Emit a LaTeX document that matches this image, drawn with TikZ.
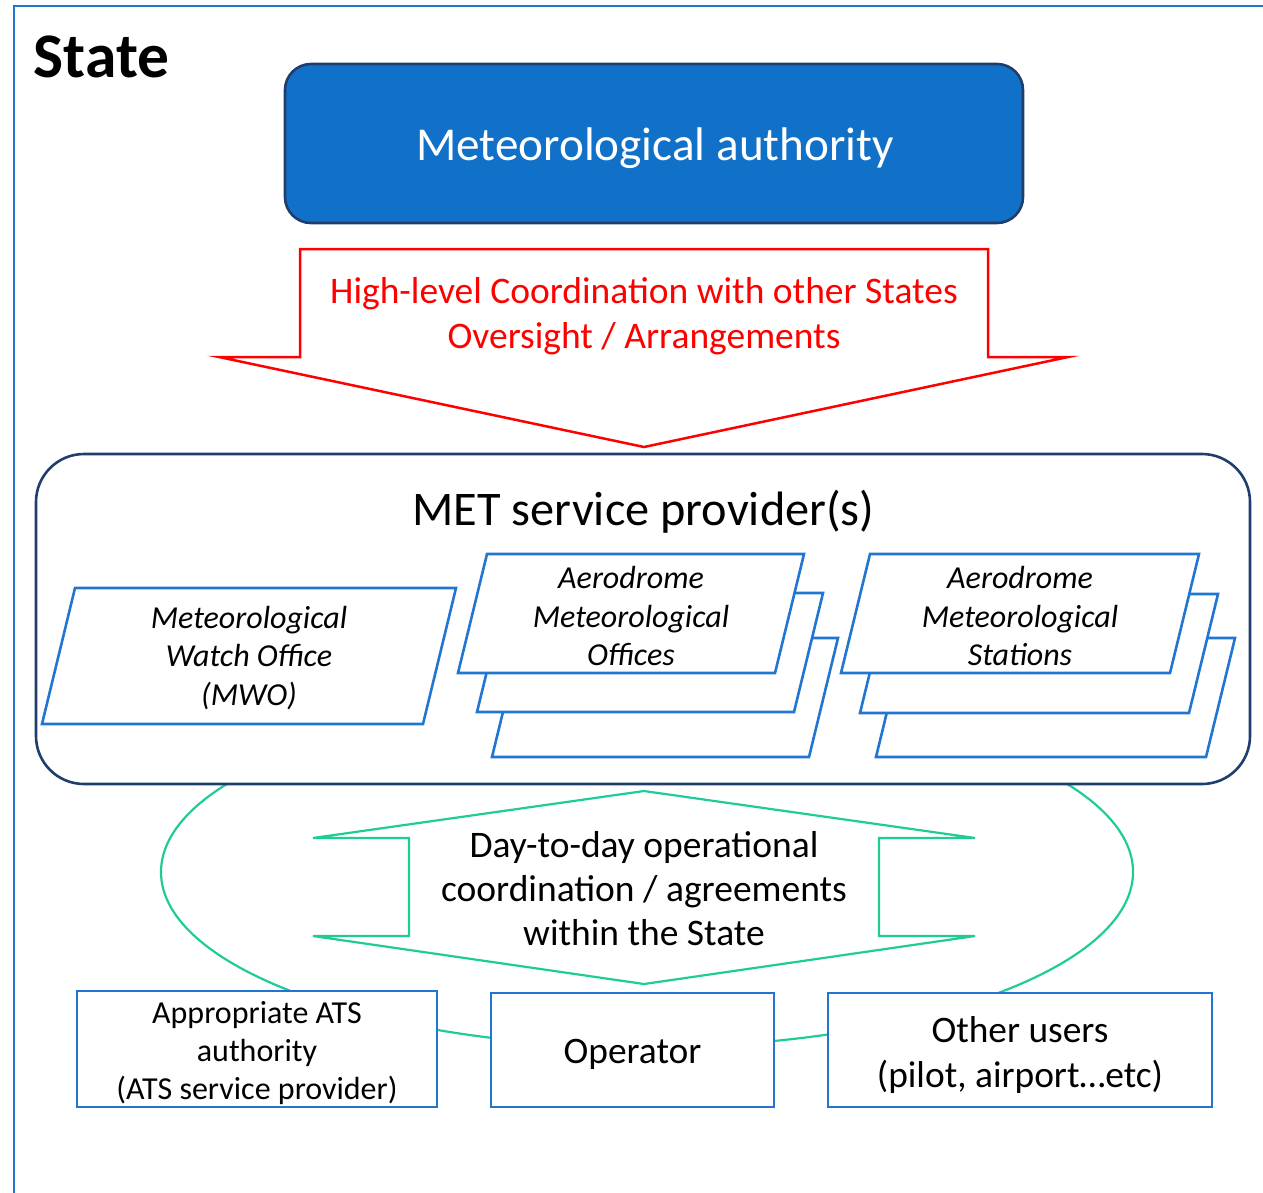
\documentclass[tikz,border=0pt]{standalone}
\usepackage{fontspec}
\setmainfont{Carlito}
\definecolor{frameblue}{RGB}{33,118,210}
\definecolor{authfill}{RGB}{17,112,200}
\definecolor{navy}{RGB}{31,62,110}
\definecolor{mint}{RGB}{32,204,150}
\tikzset{
  bluebox/.style={draw=frameblue, line width=2.6pt, fill=white, line join=miter},
  redline/.style={draw=red, line width=2.5pt, fill=white, line join=miter},
  mintline/.style={draw=mint, line width=2.2pt, line join=miter},
  paratext/.style={font=\fontsize{32}{38.5}\selectfont\itshape, align=center},
  plaintext/.style={font=\fontsize{32}{38}\selectfont, align=center}
}
\begin{document}
\begin{tikzpicture}[x=1pt,y=-1pt]
\useasboundingbox (0,0) rectangle (1263,1192);
% outer frame (only top and left visible)
\draw[frameblue, line width=2.6pt] (14,1200) -- (14,6) -- (1270,6);
\node[anchor=base, font=\fontsize{63.5}{72}\selectfont\bfseries] (state) at (101.5,77) {State};

% green ellipse behind everything
\draw[mintline, fill=none] (647,872) ellipse [x radius=486, y radius=175];

% MET service provider container
\draw[draw=navy, line width=2.6pt, fill=white, rounded corners=48pt] (36,454) rectangle (1250,784);
\node[font=\fontsize{48.3}{56}\selectfont] (met) at (643.5,512) {MET service provider(s)};

% MWO
\draw[bluebox] (75,588) -- (456,588) -- (423,724) -- (42,724) -- cycle;
\node[paratext] (mwo) at (249,658) {Meteorological\\Watch Office\\(MWO)};

% Aerodrome Meteorological Offices stack
\draw[bluebox] (521,638) -- (838,638) -- (809,757) -- (492,757) -- cycle;
\draw[bluebox] (506,593) -- (823,593) -- (794,712) -- (477,712) -- cycle;
\draw[bluebox] (487,554) -- (804,554) -- (775,673) -- (458,673) -- cycle;
\node[paratext] (amo) at (631,616) {Aerodrome\\Meteorological\\Offices};

% Aerodrome Meteorological Stations stack
\draw[bluebox] (905,638) -- (1235,638) -- (1206,757) -- (876,757) -- cycle;
\draw[bluebox] (889,594) -- (1218,594) -- (1189,713) -- (860,713) -- cycle;
\draw[bluebox] (870,554) -- (1199,554) -- (1170,673) -- (841,673) -- cycle;
\node[paratext] (ams) at (1020,616) {Aerodrome\\Meteorological\\Stations};

% Meteorological authority
\node[draw=navy, line width=2.6pt, fill=authfill, rounded corners=26pt,
      minimum width=738pt, minimum height=159pt] (auth) at (654,143.5) {};
\node[text=white, font=\fontsize{47.2}{56}\selectfont] (authtext) at (655,148) {Meteorological authority};

% red arrow
\draw[redline] (300,249) -- (988,249) -- (988,357) -- (1068,357) -- (644,447) -- (219,357) -- (300,357) -- cycle;
\node[text=red, font=\fontsize{37.5}{45}\selectfont, align=center] (hl) at (644,316)
  {High-level Coordination with other States\\Oversight / Arrangements};

% green double arrow
\draw[mintline, fill=white] (644,791) -- (975,838) -- (879,838) -- (879,936) -- (975,936) -- (644,984)
  -- (313,936) -- (409,936) -- (409,838) -- (313,838) -- cycle;
\node[font=\fontsize{37.5}{44}\selectfont, align=center] (dtd) at (644,889)
  {Day-to-day operational\\coordination / agreements\\within the State};

% bottom boxes
\node[bluebox, minimum width=360pt, minimum height=116pt] (ats) at (257,1049) {};
\node[plaintext] (atstext) at (257,1053) {Appropriate ATS\\authority\\(ATS service provider)};
\node[bluebox, minimum width=283pt, minimum height=114pt] (op) at (632.5,1050) {};
\node[font=\fontsize{37.4}{44}\selectfont] (optext) at (632.5,1054) {Operator};
\node[bluebox, minimum width=384pt, minimum height=114pt] (oth) at (1020,1050) {};
\node[font=\fontsize{37.4}{45}\selectfont, align=center] (othtext) at (1020,1055)
  {Other users\\(pilot, airport…etc)};
\end{tikzpicture}
\end{document}
